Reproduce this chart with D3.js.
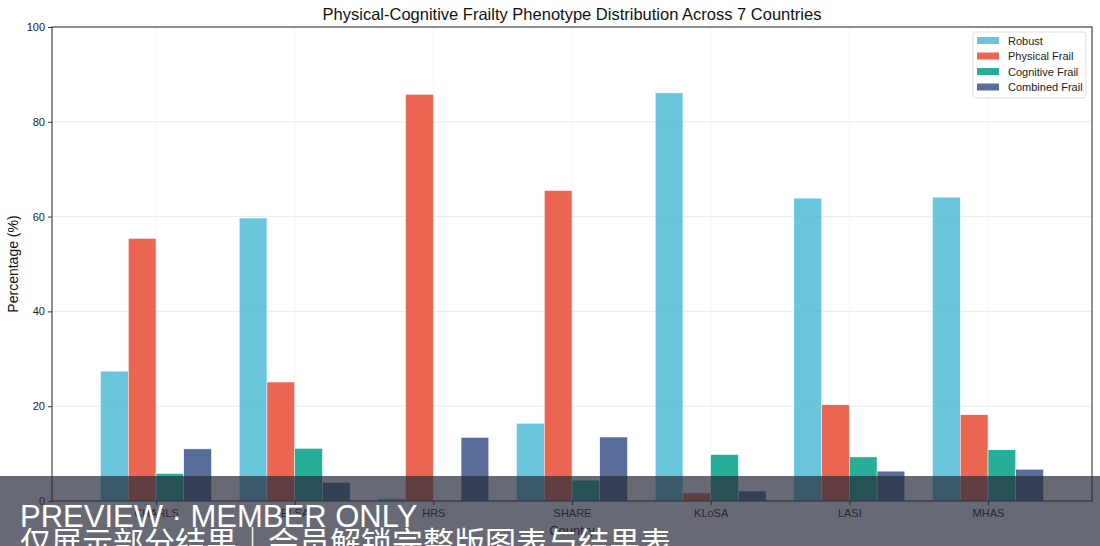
<!DOCTYPE html>
<meta charset="utf-8">
<script src="https://d3js.org/d3.v7.min.js"></script>
<style>
  body { margin: 0; background: #fff; }
  text { font-family: Arial, "Liberation Sans", sans-serif; }
</style>
<div id="chart"></div>
<script>

// data
var countries = ["CHARLS", "ELSA", "HRS", "SHARE", "KLoSA", "LASI", "MHAS"];
var seriesNames = ["Robust", "Physical Frail", "Cognitive Frail", "Combined Frail"];
var robust    = [27.4, 59.7, 0.5, 16.4, 86.1, 63.9, 64.1];
var physical  = [55.4, 25.1, 85.8, 65.5, 1.7, 20.3, 18.2];
var cognitive = [5.8, 11.1, 0.0, 4.4, 9.8, 9.3, 10.8];
var combined  = [11.0, 3.9, 13.4, 13.5, 2.1, 6.3, 6.7];
var yTicks = [0, 20, 40, 60, 80, 100];

var seriesValues = [robust, physical, cognitive, combined];
var colors = ["#4DBBD5", "#E64B35", "#00A087", "#3C5488"];

// dimensions
var W = 1100, H = 546;
var margin = {top: 27, right: 8, bottom: 45, left: 52};
var width = W - margin.left - margin.right,
    height = H - margin.top - margin.bottom;

var svg = d3.select("#chart")
  .append("svg")
    .attr("width", W)
    .attr("height", H);

var g = svg.append("g")
    .attr("transform", "translate(" + margin.left + "," + margin.top + ")");

// scales
var x = d3.scaleLinear()
  .domain([-0.75, countries.length - 0.25])
  .range([0, width]);
var y = d3.scaleLinear()
  .domain([0, 100])
  .range([height, 0]);
var barW = 0.2;

// grid
g.append("g")
  .selectAll("line")
  .data(yTicks.slice(1, -1))
  .enter().append("line")
    .attr("x1", 0).attr("x2", width)
    .attr("y1", function(d) { return y(d); })
    .attr("y2", function(d) { return y(d); })
    .attr("stroke", "#e6e6e6").attr("stroke-width", 0.8);
g.append("g")
  .selectAll("line")
  .data(countries)
  .enter().append("line")
    .attr("x1", function(d, i) { return x(i); })
    .attr("x2", function(d, i) { return x(i); })
    .attr("y1", 0).attr("y2", height)
    .attr("stroke", "#f3f3f3").attr("stroke-width", 0.8);

// bars
seriesValues.forEach(function(vals, s) {
  g.append("g")
    .selectAll("rect")
    .data(vals)
    .enter().append("rect")
      .attr("x", function(d, i) { return x(i + (s - 1.5) * barW - barW / 2); })
      .attr("y", function(d) { return y(d); })
      .attr("width", x(barW) - x(0))
      .attr("height", function(d) { return height - y(d); })
      .attr("fill", colors[s])
      .attr("fill-opacity", 0.85)
      .attr("stroke", "#fff")
      .attr("stroke-width", 0.5);
});

// axes
var yAxis = g.append("g")
  .call(d3.axisLeft(y).tickValues(yTicks).tickSize(4).tickPadding(3));
var xAxis = g.append("g")
  .attr("transform", "translate(0," + height + ")")
  .call(d3.axisBottom(x).tickValues(d3.range(countries.length))
    .tickFormat(function(i) { return countries[i]; }).tickSize(4).tickPadding(4));
[xAxis, yAxis].forEach(function(a) {
  a.select(".domain").remove();
  a.selectAll("line").attr("stroke", "#333");
  a.selectAll("text").attr("fill", "#222").style("font-size", "11px");
});

// frame
g.append("rect")
  .attr("width", width).attr("height", height)
  .attr("fill", "none").attr("stroke", "#333").attr("stroke-width", 1.1);

// labels
svg.append("text")
  .attr("x", margin.left + width / 2).attr("y", 20)
  .attr("text-anchor", "middle")
  .style("font-size", "16.5px").attr("fill", "#111")
  .text("Physical-Cognitive Frailty Phenotype Distribution Across 7 Countries");
svg.append("text")
  .attr("transform", "translate(18," + (margin.top + height / 2) + ") rotate(-90)")
  .attr("text-anchor", "middle")
  .style("font-size", "14px").attr("fill", "#111")
  .text("Percentage (%)");
svg.append("text")
  .attr("x", x(3) + margin.left).attr("y", 535)
  .attr("text-anchor", "middle")
  .style("font-size", "13px").attr("fill", "#111")
  .text("Country");

// legend
var lg = svg.append("g").attr("transform", "translate(973,32)");
lg.append("rect")
  .attr("width", 113).attr("height", 66).attr("rx", 2)
  .attr("fill", "#fff").attr("fill-opacity", 0.9)
  .attr("stroke", "#ddd");
seriesNames.forEach(function(name, i) {
  lg.append("rect")
    .attr("x", 4).attr("y", 5 + i * 15.5)
    .attr("width", 22).attr("height", 7)
    .attr("fill", colors[i]).attr("fill-opacity", 0.85);
  lg.append("text")
    .attr("x", 35).attr("y", 12.5 + i * 15.5)
    .style("font-size", "11px").attr("fill", "#222")
    .text(name);
});

// preview overlay
svg.append("rect")
  .attr("x", 0).attr("y", 476).attr("width", W).attr("height", H - 476)
  .attr("fill", "rgb(38,43,58)").attr("fill-opacity", 0.7);
svg.append("text")
  .attr("x", 20).attr("y", 527)
  .style("font-size", "31px").attr("fill", "#fff")
  .text("PREVIEW · MEMBER ONLY");
svg.append("text")
  .attr("x", 20).attr("y", 554)
  .style("font-size", "31px").style("font-family", "'Noto Sans CJK SC', sans-serif")
  .attr("fill", "#fff")
  .text("仅展示部分结果｜会员解锁完整版图表与结果表");

</script>
